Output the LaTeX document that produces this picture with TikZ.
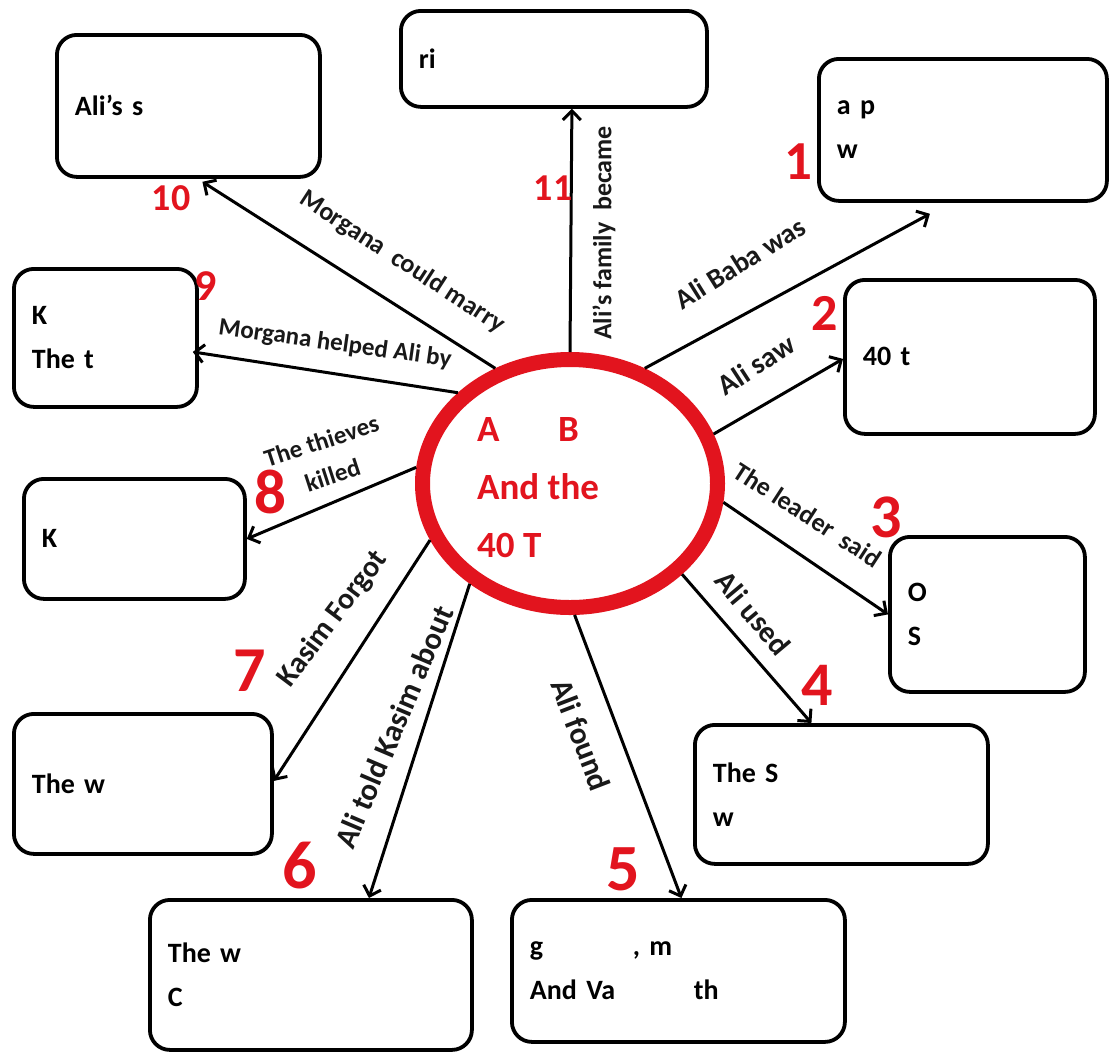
\documentclass[tikz,border=0pt]{standalone}
\usepackage{fontspec}
\setmainfont{Carlito}
\usetikzlibrary{arrows.meta,shapes.geometric}
\definecolor{myred}{RGB}{226,20,30}
\definecolor{ink}{RGB}{25,25,25}
\begin{document}
\begin{tikzpicture}[x=1pt,y=-1pt,
  box/.style={draw, line width=3.8pt, rounded corners=20pt, align=left, inner xsep=18pt, inner ysep=0pt,
    font=\fontsize{28}{44}\selectfont\bfseries, anchor=north west},
  arr/.style={line width=3pt, -{Straight Barb[length=9pt,width=18pt]}},
  lab/.style={inner sep=0pt, text=ink},
  num/.style={text=myred, inner sep=0pt}
]
\useasboundingbox (0,0) rectangle (1110,1053);

% boxes
\node[box, text width=227pt, minimum height=142pt] (b10) at (55,33) {Ali’s s};
\node[box, text width=270pt, minimum height=96pt] (b11) at (399,9) {ri};
\node[box, text width=252pt, minimum height=142pt] (b1) at (817,57) {a p\\w};
\node[box, text width=214pt, minimum height=154pt] (b2) at (843,278) {40 t};
\node[box, text width=159pt, minimum height=155pt] (b3) at (888,535) {O\\S};
\node[box, text width=257pt, minimum height=139pt] (b4) at (693,723) {The S\\w};
\node[box, text width=297pt, minimum height=142pt] (b5) at (510,898) {\makebox[103pt][l]{g}, m\\\makebox[164pt][l]{And Va}th};
\node[box, text width=286pt, minimum height=150pt] (b6) at (148,898) {The w\\C};
\node[box, text width=222pt, minimum height=140pt] (b7) at (12,712) {The w};
\node[box, text width=185pt, minimum height=120pt] (b8) at (22,477) {K};
\node[box, text width=147pt, minimum height=138pt] (b9) at (12,267) {K\\The t};

% central ellipse
\node[draw=myred, line width=15pt, ellipse, minimum width=295pt, minimum height=248pt, inner sep=0pt, fill=white] (ell) at (570,483.5) {};
\node[font=\fontsize{37}{58}\selectfont\bfseries, text=myred, align=left, anchor=west, inner sep=0pt] (title) at (477,488)
  {\makebox[81pt][l]{A}B\\And the\\40 T};

% arrows
\draw[arr] (ell.90) -- ([xshift=18pt]b11.south);
\draw[arr] (ell.57) -- ([xshift=-33pt,yshift=-11pt]b1.south);
\draw[arr] (ell.19) -- ([yshift=-2pt]b2.west);
\draw[arr] (ell.-7) -- (b3.west);
\draw[arr] (ell.-39) -- ([xshift=-30pt]b4.north);
\draw[arr] (ell.-88.6) -- ([xshift=3pt]b5.north);
\draw[arr] (ell.-135) -- ([xshift=58pt]b6.north);
\draw[arr] (ell.202) -- ([yshift=3pt]b7.east);
\draw[arr] (ell.174) -- (b8.east);
\draw[arr] (ell.141) -- ([xshift=-6pt,yshift=-14pt]b9.east);
\draw[arr] (ell.123) -- ([xshift=14pt,yshift=-3pt]b10.south);

% edge labels
\node[lab, rotate=32, font=\fontsize{28}{30}\selectfont\bfseries] (l1) at (740,263) {Ali Baba was};
\node[lab, rotate=33, font=\fontsize{29}{30}\selectfont\bfseries] (l2) at (756,365) {Ali saw};
\node[lab, rotate=-33, font=\fontsize{26}{30}\selectfont\bfseries] (l3) at (808,515) {The leader\ \ said};
\node[lab, rotate=-50, font=\fontsize{30}{30}\selectfont\bfseries] (l4) at (753,613) {Ali used};
\node[lab, rotate=-69, font=\fontsize{31}{30}\selectfont\bfseries] (l5) at (581,735) {Ali found};
\node[lab, rotate=67, font=\fontsize{31}{30}\selectfont\bfseries] (l6) at (394,727) {Ali told Kasim about};
\node[lab, rotate=53, font=\fontsize{30}{30}\selectfont\bfseries] (l7) at (333,619) {Kasim Forgot};
\node[lab, rotate=18, align=center, font=\fontsize{25}{36}\selectfont\bfseries] (l8) at (327,458) {The thieves\\killed};
\node[lab, rotate=-8, font=\fontsize{25}{30}\selectfont\bfseries] (l9) at (335,344) {Morgana helped Ali by};
\node[lab, rotate=-33, font=\fontsize{26}{30}\selectfont\bfseries] (l10) at (402,262) {Morgana\ \ could marry};
\node[lab, rotate=90, font=\fontsize{26}{30}\selectfont\bfseries] (l11) at (604,233) {Ali’s family\ \ became};

% numbers
\node[num, font=\fontsize{55}{60}\selectfont\bfseries] (n1) at (798,162) {1};
\node[num, font=\fontsize{52}{60}\selectfont\bfseries] (n2) at (825,313) {2};
\node[num, font=\fontsize{62}{60}\selectfont\bfseries] (n3) at (886,517) {3};
\node[num, font=\fontsize{62}{60}\selectfont\bfseries] (n4) at (817,685) {4};
\node[num, font=\fontsize{66}{60}\selectfont\bfseries] (n5) at (623,869) {5};
\node[num, font=\fontsize{68}{60}\selectfont\bfseries] (n6) at (300,866) {6};
\node[num, font=\fontsize{64}{60}\selectfont\bfseries] (n7) at (250,671) {7};
\node[num, font=\fontsize{63}{60}\selectfont\bfseries] (n8) at (270,492) {8};
\node[num, font=\fontsize{44}{50}\selectfont\bfseries] (n9) at (206,286) {9};
\node[num, font=\fontsize{38}{40}\selectfont\bfseries] (n10) at (171,198) {10};
\node[num, font=\fontsize{38}{40}\selectfont\bfseries] (n11) at (553,188) {11};
\end{tikzpicture}
\end{document}
